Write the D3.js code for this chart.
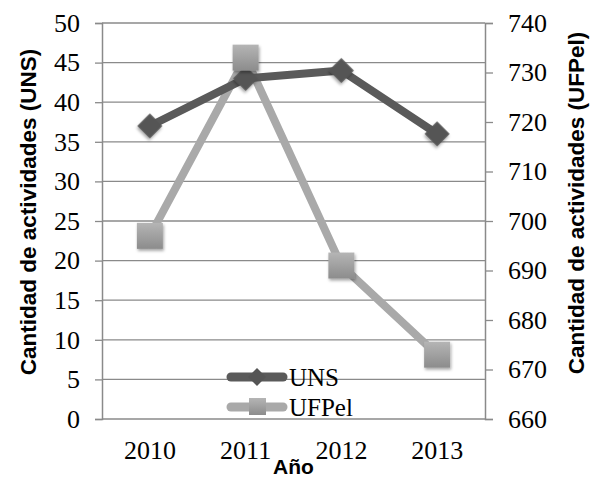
<!DOCTYPE html>
<html><head><meta charset="utf-8">
<script src="https://cdn.jsdelivr.net/npm/d3@7"></script>
<style>body{margin:0;background:#fff}</style>
</head><body>
<svg id="c" width="590" height="479"></svg>
<script>
const years = ["2010","2011","2012","2013"];
const unsValues = [37, 43, 44, 36];
const ufpelValues = [697, 733, 691, 673];
const leftTicks = [0,5,10,15,20,25,30,35,40,45,50];
const rightTicks = [660,670,680,690,700,710,720,730,740];
const seriesNames = ["UNS","UFPel"];

const SERIF = "'Liberation Serif', 'Times New Roman', serif";
const SANS = "'Liberation Sans', Arial, sans-serif";
const svg = d3.select("#c");
const L = 102, R = 485, T = 23, B = 419;
const x = d3.scaleBand().domain(years).range([L, R]);
const yL = d3.scaleLinear().domain([0,50]).range([B, T]);
const yR = d3.scaleLinear().domain([660,740]).range([B, T]);

const defs = svg.append("defs");
const f = defs.append("filter").attr("id","sh").attr("x","-50%").attr("y","-50%").attr("width","200%").attr("height","200%");
f.append("feDropShadow").attr("dx",1).attr("dy",2).attr("stdDeviation",1.5).attr("flood-color","#000").attr("flood-opacity",0.35);
const g1 = defs.append("linearGradient").attr("id","sq").attr("x1",0).attr("y1",0).attr("x2",0).attr("y2",1);
g1.append("stop").attr("offset","0%").attr("stop-color","#b5b5b5");
g1.append("stop").attr("offset","100%").attr("stop-color","#8c8c8c");

// gridlines
svg.append("g").selectAll("line").data(leftTicks).join("line")
  .attr("x1", L).attr("x2", R).attr("y1", d=>yL(d)).attr("y2", d=>yL(d))
  .attr("stroke","#8a8a8a").attr("stroke-width",1.3);

function styleAxis(a){
  a.attr("font-family", null).attr("font-size", null);
  a.select(".domain").attr("stroke","#8a8a8a").attr("stroke-width",1.5);
  a.selectAll(".tick line").attr("stroke","#8a8a8a").attr("stroke-width",1.3);
  a.selectAll("text").style("font-family",SERIF).style("font-size","26px").attr("fill","#000");
}
// left axis
const ax = svg.append("g").attr("transform",`translate(${L},0)`)
  .call(d3.axisLeft(yL).tickValues(leftTicks).tickSize(7).tickPadding(15));
styleAxis(ax);

// right axis
const ar = svg.append("g").attr("transform",`translate(${R},0)`)
  .call(d3.axisRight(yR).tickValues(rightTicks).tickSize(8).tickPadding(15));
styleAxis(ar);

// x labels
const axb = svg.append("g").attr("transform",`translate(0,${B})`)
  .call(d3.axisBottom(x).tickSize(0).tickPadding(22));
axb.select(".domain").remove();
styleAxis(axb);

const cx = d => x(d) + x.bandwidth()/2;

// UFPel line
const lineR = d3.line().x((d,i)=>cx(years[i])).y(d=>yR(d));
svg.append("path").datum(ufpelValues).attr("d",lineR).attr("fill","none")
  .attr("stroke","#a9a9a9").attr("stroke-width",8).attr("stroke-linejoin","round");
// UNS line
const lineL = d3.line().x((d,i)=>cx(years[i])).y(d=>yL(d));
svg.append("path").datum(unsValues).attr("d",lineL).attr("fill","none")
  .attr("stroke","#5a5a5a").attr("stroke-width",8).attr("stroke-linejoin","round");

// UNS markers
svg.append("g").selectAll("path").data(unsValues).join("path")
  .attr("d", d3.symbol().type(d3.symbolSquare).size(310))
  .attr("transform",(d,i)=>`translate(${cx(years[i])},${yL(d)}) rotate(45)`)
  .attr("fill","#555").attr("filter","url(#sh)");
// UFPel markers
svg.append("g").selectAll("rect").data(ufpelValues).join("rect")
  .attr("x",(d,i)=>cx(years[i])-13).attr("y",d=>yR(d)-13).attr("width",26).attr("height",26)
  .attr("fill","url(#sq)").attr("filter","url(#sh)");

// legend
const leg = svg.append("g");
const legY = [377, 407];
const legCol = ["#5a5a5a","#a9a9a9"];
seriesNames.forEach((n,i)=>{
  leg.append("line").attr("x1",231).attr("x2",283).attr("y1",legY[i]).attr("y2",legY[i])
    .attr("stroke",legCol[i]).attr("stroke-width",9).attr("stroke-linecap","round");
  if(i===0){
    leg.append("path").attr("d", d3.symbol().type(d3.symbolSquare).size(160))
      .attr("transform",`translate(257,${legY[i]}) rotate(45)`).attr("fill","#555");
  } else {
    leg.append("rect").attr("x",249).attr("y",legY[i]-9).attr("width",17).attr("height",17).attr("fill","url(#sq)");
  }
  leg.append("text").attr("x",289).attr("y",legY[i]+9).text(n)
    .style("font-family",SERIF).style("font-size","25px").attr("fill","#000");
});

// axis titles
svg.append("text").attr("transform",`translate(36,212) rotate(-90)`).attr("text-anchor","middle")
  .style("font-family",SANS).style("font-weight","bold").style("font-size","22.5px").text("Cantidad de actividades (UNS)");
svg.append("text").attr("transform",`translate(584,203) rotate(-90)`).attr("text-anchor","middle")
  .style("font-family",SANS).style("font-weight","bold").style("font-size","22.5px").text("Cantidad de actividades (UFPel)");
svg.append("text").attr("x",(L+R)/2).attr("y",474).attr("text-anchor","middle")
  .style("font-family",SANS).style("font-weight","bold").style("font-size","21px").text("Año");
</script>
</body></html>
